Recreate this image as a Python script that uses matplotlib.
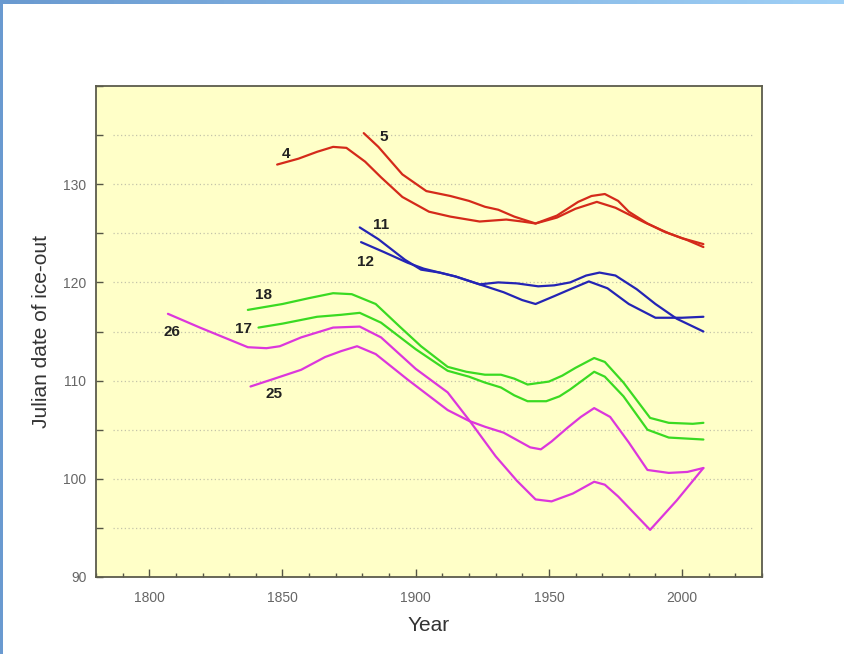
import numpy as np
import matplotlib
matplotlib.use("Agg")
import matplotlib.pyplot as plt
from matplotlib.ticker import MultipleLocator, FixedLocator

plt.rcParams['font.family'] = ['Liberation Sans', 'DejaVu Sans']

# curve 4 / 5 (red)
yr4 = [1848, 1856, 1863, 1869, 1874, 1881, 1887, 1895, 1905, 1913, 1924, 1934, 1940, 1945,
       1953, 1960, 1968, 1975, 1986, 1995, 2002, 2008]
val4 = [132.0, 132.6, 133.3, 133.8, 133.7, 132.3, 130.7, 128.7, 127.2, 126.7, 126.2, 126.4, 126.2, 126.0,
        126.6, 127.5, 128.2, 127.6, 126.1, 125.0, 124.3, 123.6]
yr5 = [1880.5, 1886, 1895, 1904, 1913, 1920, 1926, 1931, 1937, 1945, 1953, 1961, 1966, 1971,
       1976, 1980, 1987, 1993, 2000, 2008]
val5 = [135.2, 133.8, 131.0, 129.3, 128.8, 128.3, 127.7, 127.4, 126.7, 126.0, 126.8, 128.2, 128.8, 129.0,
        128.3, 127.2, 126.0, 125.2, 124.5, 123.9]

# curve 11 / 12 (blue)
yr11 = [1879, 1886, 1896, 1902, 1909, 1915, 1924, 1931, 1938, 1946, 1952, 1958, 1964, 1969,
        1975, 1983, 1990, 1998, 2008]
val11 = [125.6, 124.4, 122.3, 121.3, 121.0, 120.6, 119.8, 120.0, 119.9, 119.6, 119.7, 120.0, 120.7, 121.0,
         120.7, 119.3, 117.8, 116.3, 115.0]
yr12 = [1879.5, 1888, 1897, 1903, 1909, 1915, 1924, 1933, 1940, 1945, 1952, 1958, 1965, 1972,
        1980, 1990, 2000, 2008]
val12 = [124.1, 123.1, 122.0, 121.4, 121.0, 120.6, 119.8, 119.0, 118.2, 117.8, 118.6, 119.3, 120.1, 119.4,
         117.8, 116.4, 116.4, 116.5]

# curve 17 / 18 (green)
yr18 = [1837, 1850, 1860, 1869, 1876, 1885, 1894, 1902, 1912, 1919, 1926, 1932, 1937, 1942,
        1950, 1955, 1960, 1967, 1971, 1978, 1988, 1995, 2004, 2008]
val18 = [117.2, 117.8, 118.4, 118.9, 118.8, 117.8, 115.5, 113.5, 111.4, 110.9, 110.6, 110.6, 110.2, 109.6,
         109.9, 110.5, 111.3, 112.3, 111.9, 109.8, 106.2, 105.7, 105.6, 105.7]
yr17 = [1841, 1850, 1863, 1872, 1879, 1887, 1900, 1912, 1920, 1926, 1932, 1937, 1942, 1949,
        1954, 1958, 1967, 1971, 1978, 1987, 1995, 2008]
val17 = [115.4, 115.8, 116.5, 116.7, 116.9, 115.9, 113.2, 111.0, 110.4, 109.8, 109.3, 108.5, 107.9, 107.9,
         108.4, 109.1, 110.9, 110.4, 108.4, 105.0, 104.2, 104.0]

# curve 25 / 26 (magenta)
yr26 = [1807, 1813, 1819, 1828, 1837, 1844, 1849, 1857, 1869, 1879, 1887, 1900, 1912, 1920,
        1930, 1938, 1945, 1951, 1959, 1967, 1971, 1976, 1982, 1988, 1998, 2008]
val26 = [116.8, 116.1, 115.4, 114.4, 113.4, 113.3, 113.5, 114.4, 115.4, 115.5, 114.4, 111.2, 108.8, 106.0,
         102.3, 99.8, 97.9, 97.7, 98.5, 99.7, 99.4, 98.2, 96.5, 94.8, 97.8, 101.1]
yr25 = [1838, 1847, 1857, 1866, 1872, 1878, 1885, 1897, 1912, 1920, 1926, 1933, 1943, 1947,
        1951, 1957, 1962, 1967, 1973, 1980, 1987, 1995, 2002, 2008]
val25 = [109.4, 110.2, 111.1, 112.4, 113.0, 113.5, 112.7, 110.1, 107.0, 105.9, 105.3, 104.7, 103.2, 103.0,
         103.8, 105.2, 106.3, 107.2, 106.3, 103.7, 100.9, 100.6, 100.7, 101.1]

# curve labels: text, year, value
lab_txt = ['4', '5', '11', '12', '18', '17', '26', '25']
lab_x = [1851.3, 1888, 1887, 1881, 1843, 1835.3, 1808.6, 1846.8]
lab_y = [133.1, 134.8, 125.8, 122.1, 118.7, 115.3, 114.9, 108.6]

ytick_vals = [90, 100, 110, 120, 130]

red = '#d42a1a'
blue = '#2424b4'
green = '#3ada22'
magenta = '#dc36dc'

fig = plt.figure(figsize=(8.44, 6.54), dpi=100)
ax = fig.add_axes([96/844, 1-577/654, 666/844, 491/654])
ax.set_facecolor('#ffffc8')

# slide decoration: blue strips at top and left
top = fig.add_axes([0, 1-4/654, 1, 4/654])
top.imshow(np.linspace(0, 1, 200).reshape(1, -1), aspect='auto',
           cmap=matplotlib.colors.LinearSegmentedColormap.from_list('b', ['#6a9ad0', '#9fd0f6']))
top.axis('off')
left = fig.add_axes([0, 0, 3/844, 1])
left.set_facecolor('#6a9ad0')
left.set_xticks([])
left.set_yticks([])
for s in left.spines.values():
    s.set_visible(False)

lw = 1.6
kw = dict(lw=lw, solid_joinstyle='round', solid_capstyle='round')
ax.plot(yr4, val4, color=red, **kw)
ax.plot(yr5, val5, color=red, **kw)
ax.plot(yr11, val11, color=blue, **kw)
ax.plot(yr12, val12, color=blue, **kw)
ax.plot(yr18, val18, color=green, **kw)
ax.plot(yr17, val17, color=green, **kw)
ax.plot(yr26, val26, color=magenta, **kw)
ax.plot(yr25, val25, color=magenta, **kw)

for t, x, y in zip(lab_txt, lab_x, lab_y):
    ax.text(x, y, t, fontsize=11, fontweight='bold', color='#222222', ha='center', va='center')

ax.set_xlim(1780, 2030)
ax.set_ylim(90, 140)

# dotted horizontal grid every 5 days
for g in range(95, 140, 5):
    ax.axhline(g, xmin=0.025, xmax=0.985, color='#c4c4aa', lw=0.9, ls=(0, (1, 2)), zorder=0)

ax.xaxis.set_major_locator(MultipleLocator(50))
ax.xaxis.set_minor_locator(MultipleLocator(10))
ax.yaxis.set_major_locator(FixedLocator(ytick_vals))
ax.yaxis.set_minor_locator(MultipleLocator(5))
ax.tick_params(axis='x', which='major', direction='in', length=6, width=1, color='#555544',
               labelsize=10, labelcolor='#666666', pad=10)
ax.tick_params(axis='x', which='minor', direction='in', length=3, width=1, color='#555544')
ax.tick_params(axis='y', which='both', direction='in', length=5, width=1, color='#555544',
               labelsize=10, labelcolor='#666666', pad=7)

for s in ax.spines.values():
    s.set_color('#5c5c4c')
    s.set_linewidth(1.3)

ax.set_xlabel('Year', fontsize=15, color='#333333', labelpad=8)
ax.set_ylabel('Julian date of ice-out', fontsize=15, color='#333333', labelpad=9)

fig.savefig('out.png', dpi=100)
